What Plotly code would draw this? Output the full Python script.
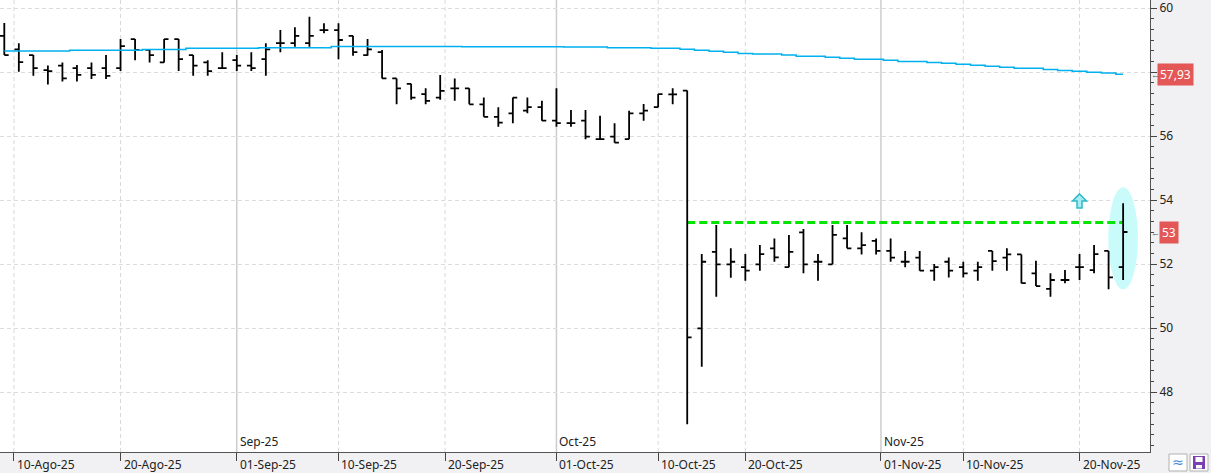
import pandas as pd
import plotly.graph_objects as go

# ---------------- data ----------------
trading_days = pd.bdate_range("2025-08-08", "2025-11-25")

open_ = [59.13, 58.71, 58.53, 58.06, 58.20, 58.12, 58.12, 58.12, 58.12, 59.03,
         58.69, 58.30, 59.03, 58.53, 58.30, 58.12, 58.37, 58.20, 58.40, 58.90,
         58.90, 58.90, 59.31, 59.31, 59.13, 58.53, 58.62, 57.80, 57.63, 57.31,
         57.20, 57.49, 57.49, 56.99, 56.60, 56.71, 56.79, 56.90, 56.48, 56.40,
         56.48, 55.90, 55.98, 55.90, 56.71, 56.90, 57.30, 57.42, 49.99, 52.38,
         51.99, 51.90, 51.99, 52.49, 51.90, 52.99, 52.07, 51.99, 52.80, 52.49,
         52.72, 52.41, 52.07, 52.20, 51.79, 52.07, 51.90, 51.79, 52.41, 52.20,
         52.30, 51.71, 51.22, 51.50, 51.90, 51.81, 52.41, 51.90]
high = [59.53, 58.90, 58.53, 58.20, 58.30, 58.22, 58.30, 58.53, 59.03, 59.03,
        58.69, 59.03, 59.03, 58.53, 58.37, 58.62, 58.53, 58.62, 58.90, 59.31,
        59.40, 59.73, 59.52, 59.52, 59.13, 59.03, 58.69, 57.80, 57.63, 57.49,
        57.91, 57.80, 57.49, 57.20, 56.90, 57.20, 57.20, 57.10, 57.49, 56.81,
        56.81, 56.63, 56.40, 56.79, 57.00, 57.31, 57.49, 57.42, 52.31, 53.22,
        52.49, 52.31, 52.59, 52.80, 52.91, 53.09, 52.31, 53.22, 53.22, 52.99,
        52.80, 52.80, 52.41, 52.41, 52.00, 52.20, 52.07, 52.07, 52.41, 52.49,
        52.30, 52.10, 51.71, 51.81, 52.31, 52.59, 52.41, 53.90]
low = [58.53, 58.01, 57.88, 57.61, 57.70, 57.70, 57.78, 57.78, 58.03, 58.37,
       58.30, 58.30, 58.03, 57.88, 57.88, 58.12, 58.03, 58.03, 57.88, 58.62,
       58.79, 58.79, 59.21, 58.40, 58.51, 58.51, 57.80, 56.99, 57.13, 56.99,
       57.13, 57.10, 56.99, 56.60, 56.29, 56.40, 56.71, 56.48, 56.29, 56.29,
       55.90, 55.90, 55.79, 55.90, 56.48, 56.90, 56.99, 46.99, 48.79, 50.98,
       51.57, 51.48, 51.79, 52.07, 51.90, 51.71, 51.48, 51.99, 52.49, 52.30,
       52.30, 52.07, 51.90, 51.79, 51.48, 51.58, 51.58, 51.48, 51.79, 51.79,
       51.40, 51.31, 50.98, 51.40, 51.50, 51.71, 51.21, 51.50]
close = [58.53, 58.31, 58.12, 58.03, 57.80, 57.91, 57.91, 57.88, 58.81, 58.69,
         58.53, 59.03, 58.40, 58.20, 58.03, 58.12, 58.20, 58.12, 58.71, 58.90,
         59.13, 59.13, 59.31, 59.00, 58.62, 58.71, 57.80, 57.49, 57.20, 57.10,
         57.41, 57.49, 56.99, 56.60, 56.42, 57.20, 56.90, 56.48, 56.40, 56.40,
         55.98, 55.90, 55.79, 56.71, 56.79, 57.31, 57.30, 49.71, 52.07, 51.99,
         52.07, 51.79, 52.31, 52.21, 52.38, 51.99, 52.07, 52.91, 52.49, 52.59,
         52.41, 52.20, 52.07, 51.79, 51.90, 51.79, 51.71, 51.90, 52.09, 52.30,
         51.40, 51.31, 51.50, 51.50, 51.90, 52.31, 51.58, 53.00]
moving_avg = [58.66, 58.66, 58.66, 58.66, 58.66, 58.68, 58.68, 58.68, 58.68, 58.68,
              58.70, 58.70, 58.70, 58.74, 58.74, 58.74, 58.74, 58.74, 58.76, 58.76,
              58.76, 58.76, 58.76, 58.80, 58.80, 58.80, 58.80, 58.80, 58.80, 58.80,
              58.80, 58.80, 58.79, 58.79, 58.79, 58.79, 58.79, 58.79, 58.79, 58.78,
              58.78, 58.78, 58.76, 58.76, 58.76, 58.74, 58.74, 58.71, 58.68, 58.65,
              58.62, 58.58, 58.56, 58.56, 58.53, 58.49, 58.49, 58.46, 58.43, 58.40,
              58.40, 58.37, 58.33, 58.33, 58.30, 58.27, 58.24, 58.21, 58.18, 58.15,
              58.12, 58.12, 58.08, 58.05, 58.02, 57.99, 57.97, 57.93]

date_ticks = ["2025-08-10", "2025-08-20", "2025-09-01", "2025-09-10", "2025-09-20",
              "2025-10-01", "2025-10-10", "2025-10-20", "2025-11-01", "2025-11-10",
              "2025-11-20"]
date_tick_labels = ["10-Ago-25", "20-Ago-25", "01-Sep-25", "10-Sep-25", "20-Sep-25",
                    "01-Oct-25", "10-Oct-25", "20-Oct-25", "01-Nov-25", "10-Nov-25",
                    "20-Nov-25"]
month_starts = ["2025-09-01", "2025-10-01", "2025-11-01"]
month_labels = ["Sep-25", "Oct-25", "Nov-25"]
price_ticks = [48, 50, 52, 54, 56, 58, 60]
price_tick_labels = ["48", "50", "52", "54", "56", "", "60"]

resistance_level = 53.3
resistance_from = "2025-10-14"
signal_day = "2025-11-20"
signal_price = 54.19
highlight_day = "2025-11-25"
highlight_low, highlight_high = 51.21, 54.40


def pos(d):
    d = pd.Timestamp(d)
    if d in trading_days:
        return float(trading_days.get_loc(d))
    prev = trading_days[trading_days < d][-1]
    nxt = trading_days[trading_days > d][0]
    return trading_days.get_loc(prev) + (d - prev).days / (nxt - prev).days


def fmt(v):
    s = f"{v:.2f}".rstrip("0").rstrip(".")
    return s.replace(".", ",")


x = list(range(len(trading_days)))

W, H = 1211, 473
ML, MR, MT, MB = 0, 61, 0, 21
PW, PH = W - ML - MR, H - MT - MB

fig = go.Figure()
fig.add_trace(go.Ohlc(
    x=x, open=open_, high=high, low=low, close=close,
    increasing=dict(line=dict(color="black", width=1.8)),
    decreasing=dict(line=dict(color="black", width=1.8)),
    tickwidth=0.3, hoverinfo="skip", showlegend=False))
fig.add_trace(go.Scatter(
    x=x, y=moving_avg, mode="lines",
    line=dict(color="#00b0f0", width=1.5, shape="hvh"),
    hoverinfo="skip", showlegend=False))

shapes = []
month_pos = [pos(d) for d in month_starts]
tick_pos = [pos(d) for d in date_ticks]
for p in tick_pos:
    if any(abs(p - m) < 1e-9 for m in month_pos):
        continue
    shapes.append(dict(type="line", xref="x", yref="paper", x0=p, x1=p, y0=0, y1=1,
                       line=dict(color="#d9d9d9", width=1, dash="4px,3px"), layer="below"))
for p in month_pos:
    shapes.append(dict(type="line", xref="x", yref="paper", x0=p, x1=p, y0=0, y1=1,
                       line=dict(color="#cdcdcd", width=1.5), layer="below"))

hi = pos(highlight_day)
shapes.append(dict(type="circle", xref="x", yref="y", x0=hi - 1.02, x1=hi + 1.02,
                   y0=highlight_low, y1=highlight_high,
                   fillcolor="#c9fbfb", line=dict(width=0), layer="between"))
shapes.append(dict(type="line", xref="x", yref="y", x0=pos(resistance_from), x1=x[-1],
                   y0=resistance_level, y1=resistance_level,
                   line=dict(color="#00e600", width=3, dash="8px,4px"), layer="between"))

# signal arrow, drawn in pixels around its anchor point
shapes.append(dict(type="path", xref="x", yref="y", xsizemode="pixel", ysizemode="pixel",
                   xanchor=pos(signal_day), yanchor=signal_price,
                   path="M 0,0 L 7,-7 L 2.5,-7 L 2.5,-14 L -2.5,-14 L -2.5,-7 L -7,-7 Z",
                   fillcolor="#a6ecf0", line=dict(color="#2fb8c6", width=1.5),
                   layer="above"))


def px_x(p):
    return (p - ML) / PW


def px_y(p):
    return (H - MB - p) / PH


# bottom-right icons
shapes.append(dict(type="rect", xref="paper", yref="paper",
                   x0=px_x(1169), x1=px_x(1187), y0=px_y(471), y1=px_y(454),
                   fillcolor="white", line=dict(color="#b0b0b0", width=1)))
shapes.append(dict(type="rect", xref="paper", yref="paper",
                   x0=px_x(1190), x1=px_x(1208), y0=px_y(471), y1=px_y(454),
                   fillcolor="white", line=dict(color="#b0b0b0", width=1)))
shapes.append(dict(type="rect", xref="paper", yref="paper",
                   x0=px_x(1193), x1=px_x(1205), y0=px_y(469), y1=px_y(456),
                   fillcolor="#7b3fb3", line=dict(width=0)))
shapes.append(dict(type="rect", xref="paper", yref="paper",
                   x0=px_x(1195.5), x1=px_x(1202.5), y0=px_y(462), y1=px_y(457),
                   fillcolor="white", line=dict(width=0)))
shapes.append(dict(type="rect", xref="paper", yref="paper",
                   x0=px_x(1196), x1=px_x(1202), y0=px_y(468.5), y1=px_y(465),
                   fillcolor="white", line=dict(width=0)))

annotations = []
font = "Noto Sans"
for p, lab in zip(tick_pos, date_tick_labels):
    annotations.append(dict(x=p, xref="x", y=0, yref="paper", text=lab, showarrow=False,
                            xanchor="left", yanchor="middle", xshift=1, yshift=-12,
                            font=dict(family=font, size=12, color="#222")))
for p, lab in zip(month_pos, month_labels):
    annotations.append(dict(x=p, xref="x", y=0, yref="paper", text=lab, showarrow=False,
                            xanchor="left", yanchor="middle", xshift=1, yshift=11,
                            font=dict(family=font, size=12, color="#222")))

for val, shift in [(moving_avg[-1], 7), (close[-1], 9)]:
    annotations.append(dict(x=1, xref="paper", y=val, yref="y", text=fmt(val), showarrow=False,
                            xanchor="left", yanchor="middle", xshift=shift,
                            bgcolor="#e35757", borderpad=2,
                            font=dict(family=font, size=12, color="white")))
    annotations.append(dict(x=1, xref="paper", y=val, yref="y", text="←", showarrow=False,
                            xanchor="left", yanchor="middle", xshift=-1,
                            font=dict(family=font, size=9, color="#555")))

annotations.append(dict(x=px_x(1178), xref="paper", y=px_y(462), yref="paper", text="≈",
                        showarrow=False, xanchor="center", yanchor="middle",
                        font=dict(family="DejaVu Sans", size=14, color="#4a86d8")))

fig.update_layout(
    width=W, height=H,
    margin=dict(l=ML, r=MR, t=MT, b=MB, pad=0),
    paper_bgcolor="#f1f1f3", plot_bgcolor="white",
    shapes=shapes, annotations=annotations,
    font=dict(family=font, size=12, color="#222"),
    xaxis=dict(range=[-0.296, 78.85], showgrid=False, zeroline=False,
               tickmode="array", tickvals=tick_pos, showticklabels=False,
               ticks="outside", ticklen=8, tickcolor="#444", tickwidth=1,
               showline=True, linecolor="#555", linewidth=1,
               rangeslider=dict(visible=False), fixedrange=True),
    yaxis=dict(side="right", range=[46.125, 60.25], zeroline=False,
               tickmode="array", tickvals=price_ticks, ticktext=price_tick_labels,
               ticks="outside", ticklen=6, tickcolor="#444", tickwidth=1,
               showline=True, linecolor="#555", linewidth=1,
               showgrid=True, gridcolor="#dcdcdc", gridwidth=1, griddash="4px,3px",
               ticklabeloverflow="allow",
               minor=dict(tickmode="linear", tick0=48, dtick=1 / 3, ticks="outside",
                          ticklen=3, tickcolor="#444", showgrid=False),
               tickfont=dict(family=font, size=12, color="#222"), fixedrange=True),
)

fig.write_html("out.html")
